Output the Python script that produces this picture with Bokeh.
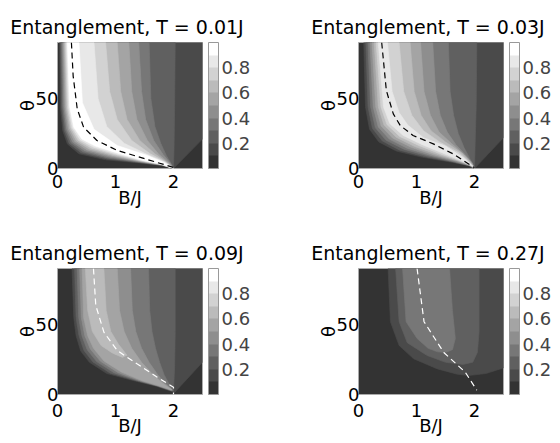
from bokeh.plotting import figure
from bokeh.models import ColorBar, LinearColorMapper, FixedTicker, Range1d, ColumnDataSource
from bokeh.layouts import column, row
from bokeh.embed import file_html
from bokeh.resources import INLINE

# ---------------- data ----------------
# band colours for E in [0,0.1), [0.1,0.2), ... [0.9,1.0]
GRAYS = ["#333333", "#4a4a4a", "#606060", "#777777", "#8e8e8e",
         "#a4a4a4", "#bbbbbb", "#d2d2d2", "#e8e8e8", "#ffffff"]
CB_TICKS = [0.2, 0.4, 0.6, 0.8]
X_TICKS = [0, 1, 2]
Y_TICKS = [0, 50]
TEMPS = ["0.01", "0.03", "0.09", "0.27"]

# Contour outlines of the regions E >= level, as (B/J, theta) points.
# left edge (top -> bottom) and right edge (top -> bottom) of each region.
# ---- T = 0.01J ----
P1_LEFT = {
    0.1: ([0.035, 0.05, 0.09, 0.17, 0.37, 0.83, 1.40, 1.80, 2.0], [90, 44, 27, 17.5, 10.5, 6.2, 4.0, 2.2, 0]),
    0.2: ([0.052, 0.07, 0.114, 0.201, 0.405, 0.851, 1.406, 1.80, 2.0], [90, 44, 27.3, 17.9, 11.2, 6.9, 4.25, 2.3, 0]),
    0.3: ([0.069, 0.09, 0.138, 0.233, 0.44, 0.873, 1.413, 1.80, 2.0], [90, 44, 27.6, 18.4, 11.9, 7.5, 4.5, 2.4, 0]),
    0.4: ([0.086, 0.11, 0.161, 0.264, 0.475, 0.894, 1.419, 1.80, 2.0], [90, 44, 27.9, 18.8, 12.6, 8.2, 4.75, 2.5, 0]),
    0.5: ([0.103, 0.13, 0.185, 0.295, 0.51, 0.915, 1.425, 1.80, 2.0], [90, 44, 28.3, 19.3, 13.3, 8.9, 5.0, 2.6, 0]),
    0.6: ([0.119, 0.15, 0.209, 0.326, 0.545, 0.936, 1.431, 1.80, 2.0], [90, 44, 28.6, 19.7, 13.9, 9.5, 5.25, 2.7, 0]),
    0.7: ([0.136, 0.17, 0.233, 0.358, 0.58, 0.958, 1.438, 1.80, 2.0], [90, 44, 28.9, 20.1, 14.6, 10.2, 5.5, 2.8, 0]),
    0.8: ([0.153, 0.19, 0.256, 0.389, 0.615, 0.979, 1.444, 1.80, 2.0], [90, 44, 29.2, 20.6, 15.3, 10.8, 5.75, 2.9, 0]),
    0.9: ([0.17, 0.21, 0.28, 0.42, 0.65, 1.0, 1.45, 1.80, 2.0], [90, 44, 29.5, 21, 16, 11.5, 6.0, 3.0, 0]),
}
P1_RIGHT = {
    0.1: ([2.5, 2.5, 2.0], [90, 21, 0]),
    0.2: ([2.03, 2.02, 2.01, 2.0], [90, 45, 15, 0]),
    0.3: ([1.58, 1.61, 1.68, 1.78, 1.88, 1.96, 2.0], [90, 50, 30, 18, 9, 3.5, 0]),
    0.4: ([1.40, 1.45, 1.52, 1.66, 1.82, 1.94, 2.0], [90, 55, 35, 20, 10, 4, 0]),
    0.5: ([1.23, 1.28, 1.37, 1.55, 1.75, 1.92, 2.0], [90, 55, 35, 20, 10, 4, 0]),
    0.6: ([1.03, 1.09, 1.20, 1.42, 1.68, 1.90, 2.0], [90, 55, 35, 20, 10.5, 4, 0]),
    0.7: ([0.83, 0.90, 1.03, 1.28, 1.60, 1.87, 2.0], [90, 55, 35, 20, 10.5, 4.5, 0]),
    0.8: ([0.63, 0.70, 0.85, 1.15, 1.55, 1.85, 2.0], [90, 50, 30, 18, 10, 4.5, 0]),
    0.9: ([0.37, 0.43, 0.63, 1.03, 1.55, 1.85, 2.0], [90, 47, 28, 16.4, 9.3, 4, 0]),
}
P1_DASH = ([0.24, 0.27, 0.34, 0.45, 0.68, 1.03, 1.55, 2.0], [90, 66, 42.6, 29.5, 20, 12.9, 6.4, 0.8])

# ---- T = 0.03J ----
P2_LEFT = {
    0.1: ([0.09, 0.12, 0.19, 0.35, 0.65, 1.10, 1.60, 1.90, 2.0], [90, 44, 28, 19, 12.5, 8, 4.5, 2.0, 0]),
    0.2: ([0.126, 0.164, 0.24, 0.41, 0.71, 1.15, 1.62, 1.91, 2.0], [90, 44, 28.6, 19.7, 13.1, 8.4, 4.7, 2.0, 0]),
    0.3: ([0.162, 0.209, 0.29, 0.47, 0.78, 1.20, 1.64, 1.91, 2.0], [90, 44, 29.1, 20.3, 13.8, 8.9, 4.9, 2.1, 0]),
    0.4: ([0.197, 0.253, 0.34, 0.53, 0.84, 1.25, 1.66, 1.92, 2.0], [90, 44, 29.7, 21.0, 14.4, 9.3, 5.1, 2.1, 0]),
    0.5: ([0.233, 0.297, 0.39, 0.59, 0.91, 1.30, 1.69, 1.93, 2.0], [90, 44, 30.3, 21.6, 15.1, 9.7, 5.4, 2.1, 0]),
    0.6: ([0.269, 0.341, 0.44, 0.65, 0.97, 1.35, 1.71, 1.94, 2.0], [90, 44, 30.9, 22.3, 15.7, 10.1, 5.6, 2.1, 0]),
    0.7: ([0.304, 0.386, 0.49, 0.71, 1.04, 1.40, 1.73, 1.94, 2.0], [90, 44, 31.4, 22.9, 16.4, 10.6, 5.8, 2.2, 0]),
    0.8: ([0.34, 0.43, 0.54, 0.77, 1.10, 1.45, 1.75, 1.95, 2.0], [90, 44, 32, 23.6, 17, 11, 6, 2.2, 0]),
}
P2_RIGHT = {
    0.1: ([2.5, 2.5, 2.0], [90, 22, 0]),
    0.2: ([2.04, 2.03, 2.01, 2.0], [90, 45, 15, 0]),
    0.3: ([1.55, 1.58, 1.64, 1.72, 1.82, 1.92, 1.97, 2.0], [90, 55, 38, 25, 15, 7, 3, 0]),
    0.4: ([1.28, 1.33, 1.41, 1.53, 1.68, 1.86, 1.96, 2.0], [90, 55, 38, 26, 17, 9, 4, 0]),
    0.5: ([1.07, 1.13, 1.24, 1.39, 1.60, 1.82, 1.94, 2.0], [90, 55, 38, 26, 18, 10, 4.5, 0]),
    0.6: ([0.89, 0.96, 1.08, 1.25, 1.50, 1.78, 1.92, 2.0], [90, 55, 38, 27, 19, 11, 5, 0]),
    0.7: ([0.70, 0.78, 0.92, 1.12, 1.40, 1.74, 1.90, 2.0], [90, 55, 38, 27, 19, 11, 5, 0]),
    0.8: ([0.50, 0.58, 0.70, 0.85, 1.12, 1.50, 1.80, 1.95, 2.0], [90, 55, 40, 31, 22, 16, 8, 2.5, 0]),
}
P2_DASH = ([0.40, 0.48, 0.60, 0.72, 0.94, 1.29, 1.63, 2.0], [90, 55.7, 39, 30.7, 23.6, 17.6, 10.5, 0.5])

# ---- T = 0.09J ----
P3_LEFT = {
    0.1: ([0.25, 0.28, 0.32, 0.40, 0.55, 0.85, 1.30, 1.70, 1.95], [90, 55, 42, 31, 23, 15, 10, 6, 2.5]),
    0.2: ([0.294, 0.32, 0.37, 0.455, 0.61, 0.91, 1.34, 1.71, 1.952], [90, 55, 42, 31.5, 23.25, 15.25, 10, 6.05, 2.7]),
    0.3: ([0.338, 0.365, 0.42, 0.51, 0.675, 0.975, 1.375, 1.725, 1.955], [90, 55, 42, 32, 23.5, 15.5, 10, 6.1, 2.9]),
    0.4: ([0.381, 0.41, 0.47, 0.565, 0.74, 1.04, 1.41, 1.74, 1.958], [90, 55, 42, 32.5, 23.75, 15.75, 10, 6.15, 3.1]),
    0.5: ([0.425, 0.45, 0.52, 0.62, 0.80, 1.10, 1.45, 1.75, 1.96], [90, 55, 42, 33, 24, 16, 10, 6.2, 3.3]),
    0.6: ([0.48, 0.52, 0.60, 0.75, 0.95, 1.12], [90, 60, 45, 35, 29.5, 26.5]),
}
P3_RIGHT = {
    0.1: ([2.5, 2.5, 2.02], [90, 23, 1.5]),
    0.2: ([2.03, 2.03, 2.02, 2.0], [90, 45, 20, 2.3]),
    0.3: ([1.57, 1.59, 1.63, 1.69, 1.76, 1.84, 1.93, 1.99], [90, 60, 45, 33, 23, 14, 7, 3]),
    0.4: ([1.26, 1.29, 1.35, 1.45, 1.58, 1.73, 1.88, 1.98], [90, 60, 45, 33, 23, 14, 7, 3.2]),
    0.5: ([1.03, 1.07, 1.15, 1.28, 1.45, 1.65, 1.85, 1.97], [90, 60, 45, 33, 23, 14, 7, 3.5]),
    0.6: ([0.80, 0.84, 0.92, 1.05, 1.20, 1.12], [90, 60, 45, 36, 28, 26.5]),
}
P3_DASH = ([0.62, 0.66, 0.80, 1.03, 1.37, 1.72, 2.0, 2.0], [90, 63.6, 44.5, 31.4, 21.9, 12.4, 5.2, 0])

# ---- T = 0.27J ----
P4_LEFT = {
    0.1: ([0.51, 0.55, 0.70, 0.95, 1.36, 1.70, 1.90, 2.20, 2.50], [90, 52, 35, 25.5, 18.3, 14.5, 13.5, 15, 19]),
    0.2: ([0.64, 0.70, 0.84, 1.18, 1.50, 1.80, 1.97], [90, 52, 37, 27.9, 23, 21.5, 23]),
    0.3: ([0.76, 0.82, 1.01, 1.20, 1.36, 1.50], [90, 52, 40, 33, 30.5, 30]),
}
P4_RIGHT = {
    0.1: ([2.5, 2.5], [90, 19]),
    0.2: ([2.08, 2.08, 2.05, 1.97], [90, 45, 30, 23]),
    0.3: ([1.57, 1.62, 1.67, 1.62, 1.50], [90, 60, 40, 32, 30]),
}
P4_DASH = ([1.01, 1.13, 1.47, 1.84, 2.04], [90, 52, 30, 16, 3])

FONT = "DejaVu Sans"
FS = "18px"
TITLE_FS = "19px"


def make_panel(temp, left, right, dash, dash_color, width, height, border_right, bottom_row):
    p = figure(width=width, height=height, x_range=Range1d(0, 2.5), y_range=Range1d(0, 90),
               output_backend="svg", toolbar_location=None,
               min_border_left=57, min_border_top=42,
               min_border_right=border_right, min_border_bottom=height - 42 - 126)
    p.background_fill_color = GRAYS[0]
    p.border_fill_color = "white"
    p.outline_line_color = "#aaaaaa"
    p.grid.visible = False

    xs, ys, cols = [], [], []
    for lev in sorted(left.keys()):
        lb, lt = left[lev]
        rb, rt = right[lev]
        xs.append(list(lb) + list(rb)[::-1])
        ys.append(list(lt) + list(rt)[::-1])
        cols.append(GRAYS[int(round(lev * 10))])
    src = ColumnDataSource(dict(xs=xs, ys=ys, c=cols))
    p.patches("xs", "ys", source=src, fill_color="c", line_color="c", line_width=0.6)

    p.line(dash[0], dash[1], line_color=dash_color, line_width=1.2, line_dash="6 4")

    p.title.text = "Entanglement,  T = %sJ" % temp
    p.title.align = "center"
    p.title.text_font = FONT
    p.title.text_font_size = TITLE_FS
    p.title.text_font_style = "normal"
    p.title.text_color = "black"
    p.title.standoff = 10

    p.xaxis.ticker = FixedTicker(ticks=X_TICKS)
    p.yaxis.ticker = FixedTicker(ticks=Y_TICKS)
    p.xaxis.axis_label = "B/J"
    p.yaxis.axis_label = "θ"
    for ax in (p.xaxis[0], p.yaxis[0]):
        ax.axis_line_color = None
        ax.major_tick_line_color = None
        ax.minor_tick_line_color = None
        ax.major_tick_out = 0
        ax.major_tick_in = 0
        ax.minor_tick_out = 0
        ax.major_label_text_font = FONT
        ax.major_label_text_font_size = FS
        ax.major_label_text_color = "black"
        ax.axis_label_text_font = FONT
        ax.axis_label_text_font_size = FS
        ax.axis_label_text_font_style = "normal"
        ax.axis_label_text_color = "black"
    if bottom_row:
        p.xaxis[0].major_label_standoff = 9
        p.xaxis[0].axis_label_standoff = -5
    else:
        p.xaxis[0].major_label_standoff = 6
        p.xaxis[0].axis_label_standoff = -4
    p.yaxis[0].major_label_standoff = -1
    p.yaxis[0].axis_label_standoff = -5

    mapper = LinearColorMapper(palette=GRAYS, low=0, high=1)
    cb = ColorBar(color_mapper=mapper, ticker=FixedTicker(ticks=CB_TICKS),
                  width=10, height=126, location=(6, 0), padding=0, margin=0,
                  label_standoff=3, major_label_text_font=FONT,
                  major_label_text_font_size=FS, major_tick_line_color=None,
                  bar_line_color="#999999", border_line_color=None,
                  background_fill_color=None)
    p.add_layout(cb, "right")
    return p


p1 = make_panel(TEMPS[0], P1_LEFT, P1_RIGHT, P1_DASH, "black", 301, 226, 99, False)
p2 = make_panel(TEMPS[1], P2_LEFT, P2_RIGHT, P2_DASH, "black", 259, 226, 57, False)
p3 = make_panel(TEMPS[2], P3_LEFT, P3_RIGHT, P3_DASH, "white", 301, 217, 99, True)
p4 = make_panel(TEMPS[3], P4_LEFT, P4_RIGHT, P4_DASH, "white", 259, 217, 57, True)

layout = column(row(p1, p2), row(p3, p4))
open("out.html", "w").write(file_html(layout, INLINE))
